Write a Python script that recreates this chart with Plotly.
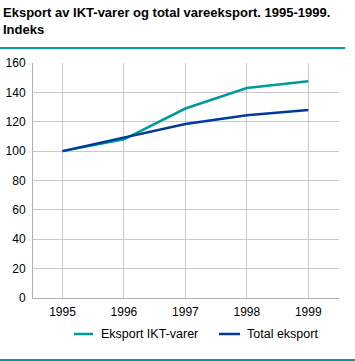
import plotly.graph_objects as go

years = [1995, 1996, 1997, 1998, 1999]
ikt = [100, 108, 129, 143, 147.5]
total = [100, 109, 118.5, 124.5, 128]
series_names = ["Eksport IKT-varer", "Total eksport"]
series_colors = ["#009a9a", "#003a99"]
title_text = "<b>Eksport av IKT-varer og total vareeksport. 1995-1999.<br>Indeks</b>"

W, H = 355, 361
L, R, T, B = 33, 16, 63, 63
pw, ph = W - L - R, H - T - B


def px(x):
    return (x - L) / pw


def py(y):
    return (H - B - y) / ph


FONT = "Liberation Sans"

fig = go.Figure()
for name, vals, col in zip(series_names, [ikt, total], series_colors):
    fig.add_trace(go.Scatter(x=years, y=vals, mode="lines", name=name,
                             line=dict(color=col, width=2.5)))

# manual legend (below plot)
legend_pos = [(74, 93, 99), (219, 240, 245)]
shapes = []
annotations = []
for (x0, x1, xt), name, col in zip(legend_pos, series_names, series_colors):
    shapes.append(dict(type="line", xref="paper", yref="paper",
                       x0=px(x0), x1=px(x1), y0=py(334), y1=py(334),
                       line=dict(color=col, width=2.5)))
    annotations.append(dict(text=name, xref="paper", yref="paper",
                            x=px(xt), y=py(334), xanchor="left", yanchor="middle",
                            showarrow=False, font=dict(size=12.5, family=FONT, color="#000")))

annotations.append(dict(text=title_text, xref="paper", yref="paper",
                        x=px(1), y=py(3), xanchor="left", yanchor="top",
                        showarrow=False, align="left",
                        font=dict(size=13, family=FONT, color="#000")))
shapes += [
    dict(type="line", xref="paper", yref="paper",
         x0=px(0), x1=px(345), y0=py(48), y1=py(48),
         line=dict(color="#009a9a", width=2)),
    dict(type="line", xref="paper", yref="paper",
         x0=px(0), x1=px(355), y0=py(360), y1=py(360),
         line=dict(color="#009a9a", width=2)),
]

fig.update_layout(
    width=W, height=H,
    margin=dict(l=L, r=R, t=T, b=B, pad=0, autoexpand=False),
    paper_bgcolor="white", plot_bgcolor="white",
    font=dict(family=FONT, size=12, color="#000000"),
    showlegend=False,
    xaxis=dict(range=[1994.52, 1999.5], tickvals=years, ticktext=[str(y) for y in years],
               showgrid=True, gridcolor="#c8c8c8", gridwidth=1,
               showline=True, linecolor="#b0b0b0", linewidth=1,
               ticks="", zeroline=False, automargin=False, ticklabelstandoff=3),
    yaxis=dict(range=[0, 160], dtick=20, showgrid=True, gridcolor="#c8c8c8", gridwidth=1,
               showline=True, linecolor="#b0b0b0", linewidth=1,
               ticks="", zeroline=False, automargin=False, ticklabelstandoff=4),
    annotations=annotations,
    shapes=shapes,
)

fig.write_html("out.html", config={"displayModeBar": False, "staticPlot": True},
               post_script="document.body.style.margin='0';document.body.style.overflow='hidden';")
